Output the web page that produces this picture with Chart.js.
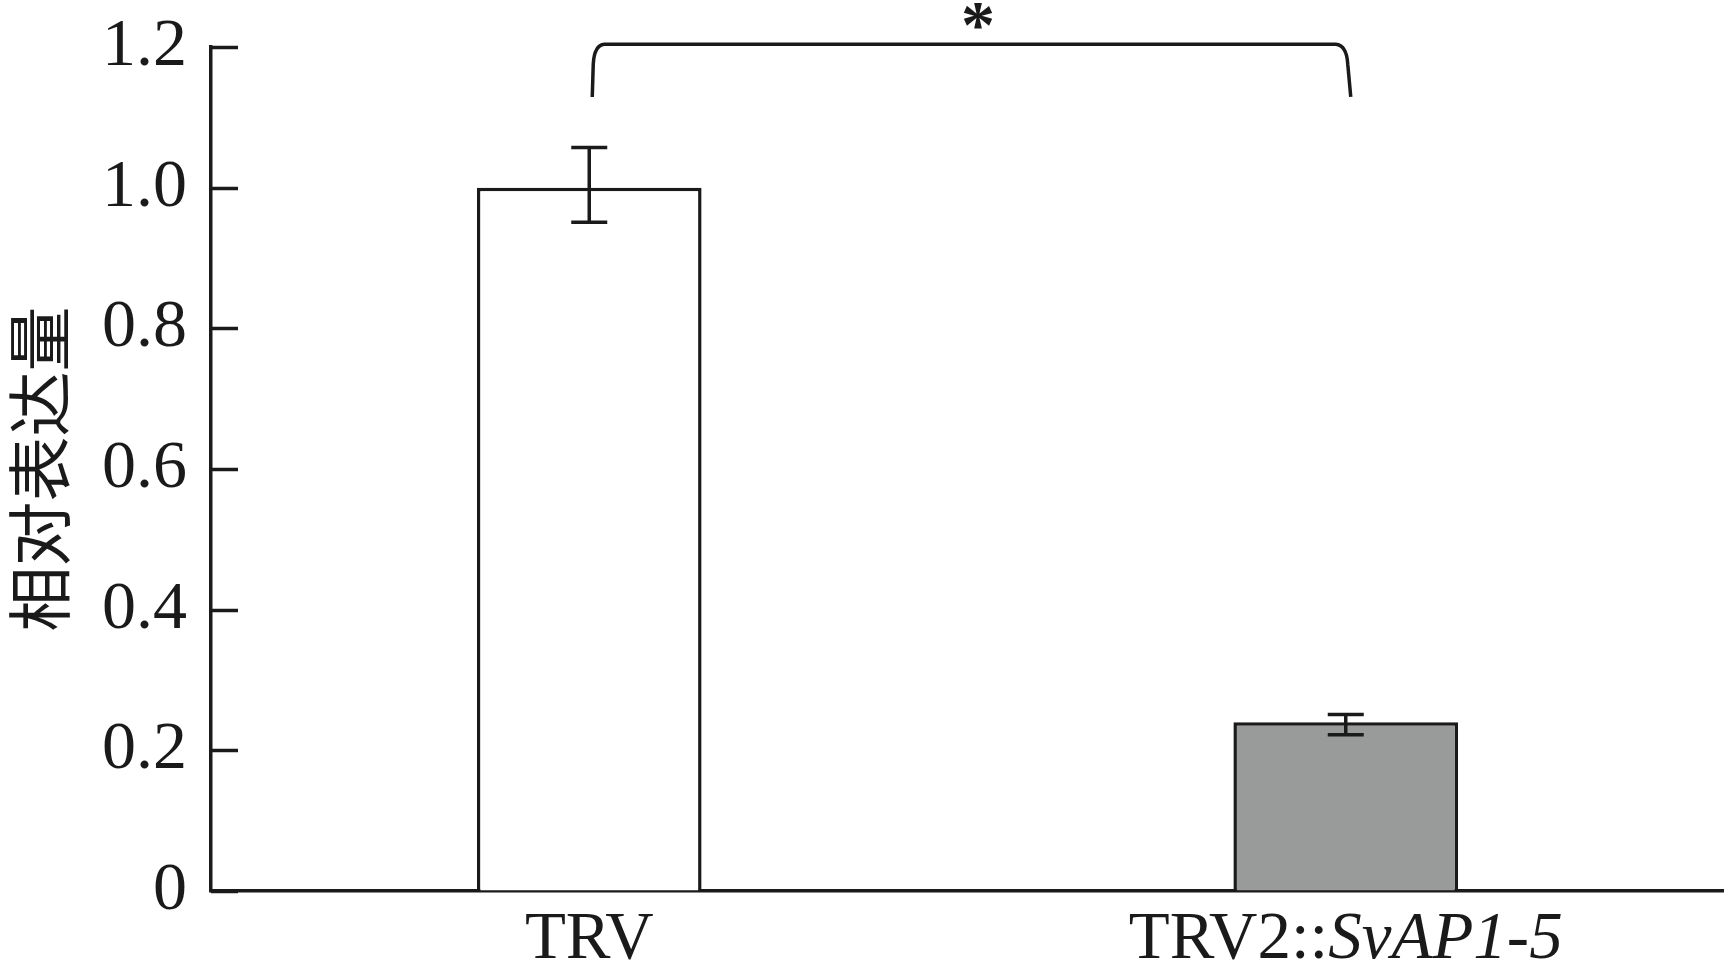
<!DOCTYPE html>
<html>
<head>
<meta charset="utf-8">
<script src="https://cdn.jsdelivr.net/npm/chart.js@4.4.1/dist/chart.umd.min.js"></script>
<style>
  html, body { margin: 0; padding: 0; background: #ffffff; }
  #wrap { width: 1724px; height: 964px; position: relative; }
</style>
</head>
<body>
<div id="wrap"><canvas id="c"></canvas></div>
<script>
// ---- data ----
const categories = ['TRV', 'TRV2::SvAP1-5'];
const labelPlain = ['TRV', 'TRV2::'];
const labelItalic = ['', 'SvAP1-5'];
const values = [1.0, 0.24];
const errHigh = [1.057, 0.251];
const errLow = [0.951, 0.222];
const barColors = ['#ffffff', '#999b9a'];
const yTickLabels = ['0', '0.2', '0.4', '0.6', '0.8', '1.0', '1.2'];
const yTitle = '相对表达量';
const sigPair = [0, 1];
const sigBracket = [1.204, 1.129]; // top, leg bottom (data units)
const sigMark = '*';

const INK = '#1a1a1a';
const LW = 3.5;
const SERIF = '"Liberation Serif", "Times New Roman", serif';

const extras = {
  id: 'extras',
  afterDatasetsDraw(chart) {
    const ctx = chart.ctx;
    const y = chart.scales.y;
    const meta = chart.getDatasetMeta(0);
    ctx.save();
    ctx.strokeStyle = INK;
    ctx.lineWidth = LW;
    const cap = 18;
    meta.data.forEach((bar, i) => {
      const x = bar.x;
      const yh = y.getPixelForValue(errHigh[i]);
      const yl = y.getPixelForValue(errLow[i]);
      ctx.beginPath();
      ctx.moveTo(x, yh); ctx.lineTo(x, yl);
      ctx.moveTo(x - cap, yh); ctx.lineTo(x + cap, yh);
      ctx.moveTo(x - cap, yl); ctx.lineTo(x + cap, yl);
      ctx.stroke();
    });
    ctx.restore();
  },
  afterDraw(chart) {
    const ctx = chart.ctx;
    const y = chart.scales.y;
    const xs = chart.scales.x;
    const area = chart.chartArea;
    ctx.save();
    ctx.strokeStyle = INK;
    ctx.fillStyle = INK;
    // inward tick marks
    ctx.lineWidth = LW;
    y.ticks.forEach(t => {
      const py = Math.round(y.getPixelForValue(t.value)) + 0.5;
      ctx.beginPath();
      ctx.moveTo(area.left, py);
      ctx.lineTo(area.left + 27, py);
      ctx.stroke();
    });
    // x labels (with italic part)
    ctx.textBaseline = 'alphabetic';
    ctx.textAlign = 'left';
    categories.forEach((c, i) => {
      const cx = xs.getPixelForValue(i);
      ctx.font = '67px ' + SERIF;
      const w1 = ctx.measureText(labelPlain[i]).width;
      ctx.font = 'italic 67px ' + SERIF;
      const w2 = ctx.measureText(labelItalic[i]).width;
      let sx = cx - (w1 + w2) / 2;
      ctx.font = '67px ' + SERIF;
      ctx.fillText(labelPlain[i], sx, 958);
      ctx.font = 'italic 67px ' + SERIF;
      ctx.fillText(labelItalic[i], sx + w1, 958);
    });
    // significance bracket
    const x1 = xs.getPixelForValue(sigPair[0]) + 3;
    const x2 = xs.getPixelForValue(sigPair[1]) + 2;
    const yt = y.getPixelForValue(sigBracket[0]);
    const yb = y.getPixelForValue(sigBracket[1]);
    const r = 12;
    ctx.lineWidth = LW;
    ctx.beginPath();
    ctx.moveTo(x1, yb);
    ctx.lineTo(x1 + 1, yt + r + 8);
    ctx.quadraticCurveTo(x1 + 2, yt + 1, x1 + r, yt);
    ctx.lineTo(x2 - r, yt);
    ctx.quadraticCurveTo(x2 - 1, yt + 1, x2, yt + r + 8);
    ctx.lineTo(x2 + 3, yb);
    ctx.stroke();
    // asterisk
    ctx.font = 'bold 68px ' + SERIF;
    ctx.textAlign = 'center';
    const m = ctx.measureText(sigMark);
    const mid = 16;
    const base = mid + (m.actualBoundingBoxAscent - m.actualBoundingBoxDescent) / 2;
    ctx.fillText(sigMark, (x1 + x2) / 2 + 8, base);
    ctx.restore();
  }
};

new Chart(document.getElementById('c'), {
  type: 'bar',
  data: {
    labels: categories,
    datasets: [{
      data: values,
      backgroundColor: barColors,
      borderColor: INK,
      borderWidth: LW,
      borderSkipped: 'start',
      categoryPercentage: 1.0,
      barPercentage: 0.297
    }]
  },
  plugins: [extras],
  options: {
    responsive: true,
    maintainAspectRatio: false,
    animation: false,
    layout: { padding: { top: 47, right: 0, bottom: 0, left: 0 } },
    plugins: { legend: { display: false }, tooltip: { enabled: false } },
    scales: {
      x: {
        type: 'category',
        offset: true,
        grid: { drawOnChartArea: false, drawTicks: false },
        border: { display: true, color: INK, width: LW },
        ticks: { display: false },
        afterFit(s) { s.height = 73; s.paddingLeft = 0; s.paddingRight = 0; }
      },
      y: {
        min: 0, max: 1.2,
        grid: { drawOnChartArea: false, drawTicks: false },
        border: { display: true, color: INK, width: LW },
        ticks: {
          stepSize: 0.2,
          padding: 24,
          color: INK,
          font: { family: SERIF, size: 68 },
          callback: (v, i) => yTickLabels[i]
        },
        title: {
          display: true,
          text: yTitle,
          color: INK,
          font: { family: '"Noto Sans CJK SC", sans-serif', size: 65, lineHeight: 1.2 },
          padding: { top: 0, bottom: 0 }
        },
        afterFit(s) { s.width = 211; s.paddingTop = 0; s.paddingBottom = 0; }
      }
    }
  }
});
</script>
</body>
</html>
